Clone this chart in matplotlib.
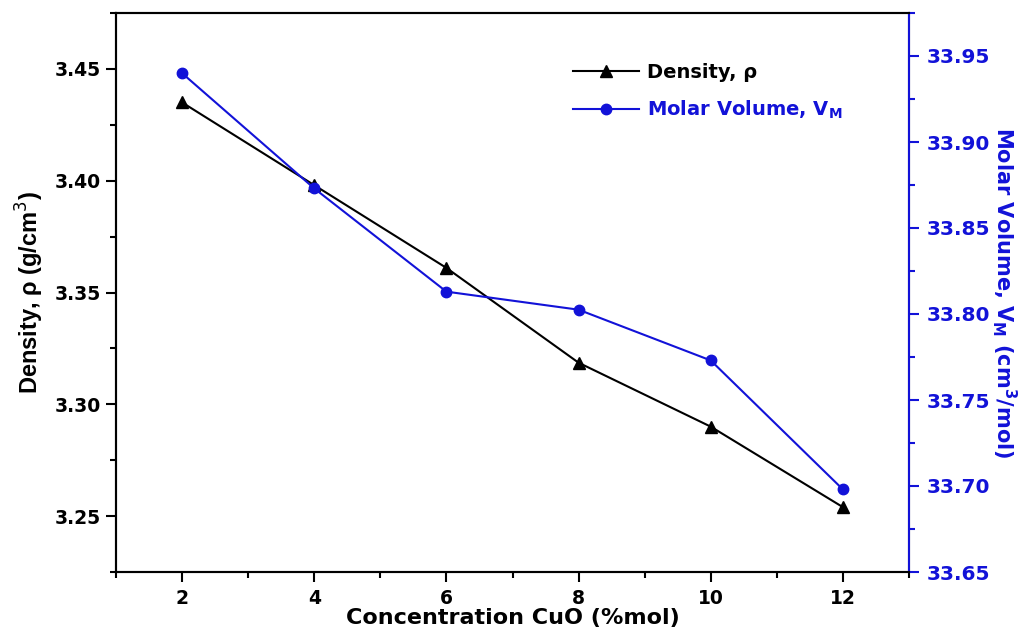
import matplotlib
matplotlib.use("Agg")
import matplotlib.pyplot as plt
from matplotlib.ticker import MultipleLocator, FormatStrFormatter

# ---- data ----
concentration = [2, 4, 6, 8, 10, 12]
density = [3.435, 3.398, 3.361, 3.3186, 3.290, 3.254]
molar_volume = [33.940, 33.873, 33.813, 33.8025, 33.773, 33.698]

x_label = "Concentration CuO (%mol)"
y_label_left = "Density, \u03c1 (g/cm$^3$)"
y_label_right = r"Molar Volume, $\mathbf{V_M}$ (cm$\mathbf{^3}$/mol)"
legend_labels = ["Density, \u03c1", r"Molar Volume, $\mathbf{V_M}$"]

BLUE = "#1212d8"

plt.rcParams["font.family"] = ["DejaVu Sans"]
plt.rcParams["mathtext.fontset"] = "dejavusans"

fig = plt.figure(figsize=(10.27, 6.3), dpi=100)
ax = fig.add_axes([116 / 1027, 58 / 630, (909 - 116) / 1027, (572 - 13) / 630])
ax2 = ax.twinx()

l1, = ax.plot(concentration, density, color="black", lw=1.5, marker="^",
              markersize=8, label=legend_labels[0])
l2, = ax2.plot(concentration, molar_volume, color=BLUE, lw=1.5, marker="o",
               markersize=7.5, label=legend_labels[1])

ax.set_xlim(1, 13)
ax.set_ylim(3.225, 3.475)
ax2.set_ylim(33.65, 33.975)

ax.xaxis.set_major_locator(MultipleLocator(2))
ax.xaxis.set_minor_locator(MultipleLocator(1))
ax.yaxis.set_major_locator(MultipleLocator(0.05))
ax.yaxis.set_minor_locator(MultipleLocator(0.025))
ax.yaxis.set_major_formatter(FormatStrFormatter("%.2f"))
ax2.yaxis.set_major_locator(MultipleLocator(0.05))
ax2.yaxis.set_minor_locator(MultipleLocator(0.025))
ax2.yaxis.set_major_formatter(FormatStrFormatter("%.2f"))

for a in (ax, ax2):
    for s in a.spines.values():
        s.set_linewidth(1.5)
ax2.spines["right"].set_color(BLUE)

ax.tick_params(axis="both", which="major", direction="out", length=7.5, width=1.5,
               labelsize=13.5)
ax.tick_params(axis="both", which="minor", direction="out", length=4, width=1.5)
ax.tick_params(axis="x", pad=5)
ax2.tick_params(axis="y", which="major", direction="out", length=7.5, width=1.5,
                labelsize=14.5, colors=BLUE, labelcolor=BLUE, pad=5)
ax2.tick_params(axis="y", which="minor", direction="out", length=4, width=1.5,
                colors=BLUE)

for lab in ax.get_xticklabels() + ax.get_yticklabels():
    lab.set_fontweight("bold")
for lab in ax2.get_yticklabels():
    lab.set_fontweight("bold")

ax.set_xlabel(x_label, fontsize=16, fontweight="bold", labelpad=0)
ax.set_ylabel(y_label_left, fontsize=17, family=["Liberation Sans"],
              fontweight="bold", labelpad=6)
ax2.set_ylabel(y_label_right, fontsize=15, fontweight="bold", color=BLUE,
               rotation=270, labelpad=21)

leg = ax.legend(handles=[l1, l2], loc="upper left",
                bbox_to_anchor=(565 / 1027, 1 - 55 / 630),
                bbox_transform=fig.transFigure, frameon=False,
                prop={"weight": "bold", "size": 14}, handlelength=3.4,
                handletextpad=0.4, labelspacing=0.85, borderaxespad=0)
for t, c in zip(leg.get_texts(), ["black", BLUE]):
    t.set_color(c)

fig.savefig("out.png", dpi=100)
